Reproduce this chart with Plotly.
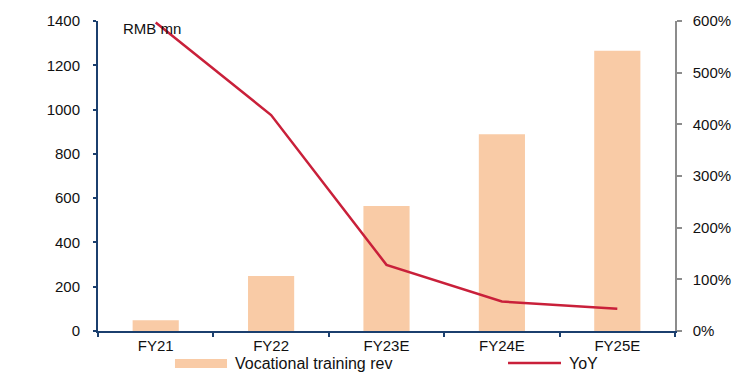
import plotly.graph_objects as go

# Fiscal years and figures
years = ["FY21", "FY22", "FY23E", "FY24E", "FY25E"]
revenue = [48, 248, 565, 888, 1266]          # RMB mn
yoy = [5.97, 4.18, 1.28, 0.57, 0.43]         # growth as fraction

rev_name = "Vocational training rev"
yoy_name = "YoY"
unit_label = "RMB mn"

BAR_COLOR = "#F9CBA6"
LINE_COLOR = "#C9203A"
NAVY = "#1B3F6E"
GREY = "#8C8C8C"
FONT = "Liberation Sans, Arial, sans-serif"

fig = go.Figure()
fig.add_trace(go.Bar(
    x=years, y=revenue, name=rev_name,
    marker=dict(color=BAR_COLOR, line=dict(width=0)),
    showlegend=False,
))
fig.add_trace(go.Scatter(
    x=years, y=yoy, name=yoy_name, yaxis="y2", mode="lines",
    line=dict(color=LINE_COLOR, width=2.5),
    showlegend=False,
))

fig.update_layout(
    width=746, height=374,
    margin=dict(l=98, r=71, t=21, b=43),
    paper_bgcolor="white", plot_bgcolor="white",
    font=dict(family=FONT, size=15, color="#111111"),
    bargap=0.6,
    xaxis=dict(
        showline=True, linecolor=NAVY, linewidth=2,
        ticks="outside", tickson="boundaries", ticklen=4, tickwidth=2,
        tickcolor=NAVY, showgrid=False, zeroline=False,
    ),
    yaxis=dict(
        range=[0, 1400], dtick=200, showline=True, linecolor=NAVY,
        linewidth=2, ticks="outside", ticklen=3, tickwidth=2,
        tickcolor=NAVY, showgrid=False, zeroline=False,
        ticklabelstandoff=10,
    ),
    yaxis2=dict(
        range=[0, 6], dtick=1, tickformat=".0%", overlaying="y",
        side="right", showline=True, linecolor=GREY, linewidth=1.5,
        ticks="outside", ticklen=5, tickwidth=1.5, tickcolor=GREY,
        showgrid=False, zeroline=False, ticklabelstandoff=8,
    ),
)

# Unit label in the top-left corner of the plot
fig.add_annotation(
    text=unit_label, xref="paper", yref="paper", x=0.040, y=0.977,
    xanchor="left", yanchor="middle", showarrow=False,
    font=dict(family=FONT, size=15, color="#111111"),
)

# Legend drawn beneath the axis: wide swatches with labels
fig.add_shape(
    type="rect", xref="paper", yref="paper",
    x0=0.1334, x1=0.2236, y0=-0.1194, y1=-0.0903,
    fillcolor=BAR_COLOR, line=dict(width=0),
)
fig.add_annotation(
    text=rev_name, xref="paper", yref="paper", x=0.234, y=-0.1048,
    xanchor="left", yanchor="middle", showarrow=False,
    font=dict(family=FONT, size=16, color="#111111"),
)
fig.add_shape(
    type="line", xref="paper", yref="paper",
    x0=0.7106, x1=0.8024, y0=-0.1032, y1=-0.1032,
    line=dict(color=LINE_COLOR, width=2.5),
)
fig.add_annotation(
    text=yoy_name, xref="paper", yref="paper", x=0.8128, y=-0.1048,
    xanchor="left", yanchor="middle", showarrow=False,
    font=dict(family=FONT, size=16, color="#111111"),
)

fig.write_html("out.html")
